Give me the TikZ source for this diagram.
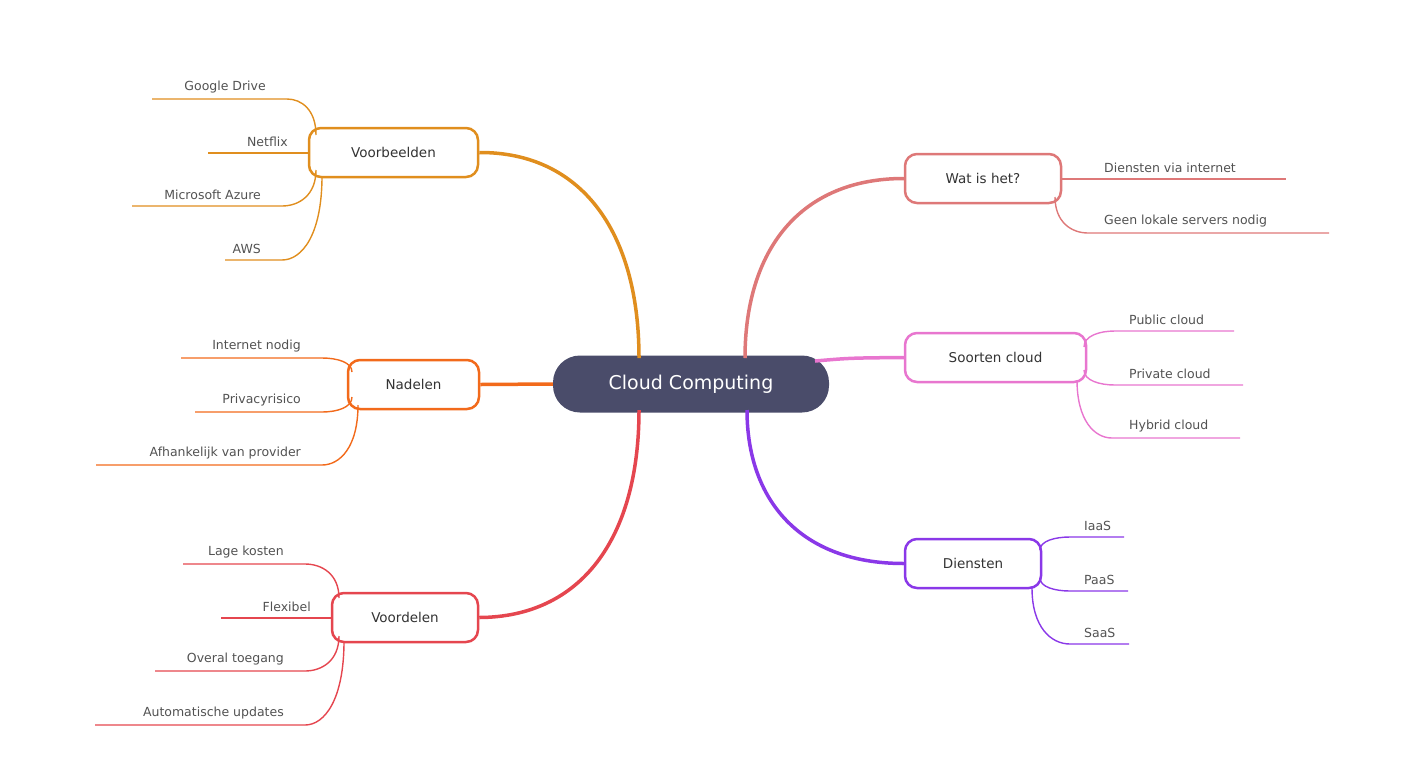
\documentclass[tikz,border=0pt]{standalone}
\usepackage{fontspec}
\setmainfont{DejaVu Sans}
\usetikzlibrary{calc}
\definecolor{cvb}{HTML}{E08E1E}
\definecolor{cnd}{HTML}{F26A1B}
\definecolor{cvd}{HTML}{E5464F}
\definecolor{cwh}{HTML}{DE7878}
\definecolor{csc}{HTML}{E876CF}
\definecolor{cdi}{HTML}{8A38E8}
\definecolor{ccc}{HTML}{4A4C6A}
\begin{document}
\begin{tikzpicture}[x=1pt,y=-1pt,
  topic/.style={draw, line width=2.5pt, rounded corners=12pt, fill=white,
    minimum height=49pt, inner sep=0pt, font=\fontsize{13.5}{16}\selectfont, text=black!80},
  leaf/.style={inner sep=2pt, font=\fontsize{12.5}{15}\selectfont, text=black!68},
  branch/.style={line width=3.5pt},
  twig/.style={line width=1.4pt}]
  \useasboundingbox (0,0) rectangle (1423,769);

  % center
  \node[fill=ccc, rounded corners=27pt, minimum width=276pt, minimum height=57pt,
    text=white, font=\fontsize{19}{22}\selectfont] (cc) at (691,384) {Cloud Computing};

  % topics
  \node[topic, draw=cvb, minimum width=169pt] (vb) at (393.5,152.5) {Voorbeelden};
  \node[topic, draw=cnd, minimum width=131pt] (nd) at (413.5,384.5) {Nadelen};
  \node[topic, draw=cvd, minimum width=146pt] (vd) at (405,617.5) {Voordelen};
  \node[topic, draw=cwh, minimum width=156pt] (wh) at (983,178.5) {Wat is het?};
  \node[topic, draw=csc, minimum width=181pt] (sc) at (995.5,357.5) {Soorten cloud};
  \node[topic, draw=cdi, minimum width=136pt] (di) at (973,563.5) {Diensten};

  % branches
  \draw[branch, cvb] (639,358) .. controls (639,230) and (580,152) .. (vb.east);
  \draw[branch, cnd] (cc.west) -- (nd.east);
  \draw[branch, cvd] (639,410) .. controls (639,540) and (580,617) .. (vd.east);
  \draw[branch, cwh] (745,358) .. controls (745,250) and (800,178.5) .. (wh.west);
  \draw[branch, csc] (815,361) .. controls (850,358) .. (sc.west);
  \draw[branch, cdi] (747,410) .. controls (747,500) and (800,563.5) .. (di.west);

  % leaves, left side: colour/name/start x/start y/knee x/line y/end x/text
  \foreach \c/\nm/\sx/\sy/\kx/\ly/\ex/\txt in {
    cvb/gd/316/135/287/99/152/Google Drive,
    cvb/nf/309/153/309/153/208/Netflix,
    cvb/ma/316/170/282/206/132/Microsoft Azure,
    cvb/aw/322/176/282/260/225/AWS,
    cnd/in/352/372/322/358/181/Internet nodig,
    cnd/pr/352/397/322/412/195/Privacyrisico,
    cnd/ah/358/405/322/465/96/Afhankelijk van provider,
    cvd/lk/339/598/305/564/183/Lage kosten,
    cvd/fx/332/618/332/618/221/Flexibel,
    cvd/ot/339/636/305/671/155/Overal toegang,
    cvd/au/344/641/305/725/95/Automatische updates}{
    \coordinate (\nm s) at (\sx,\sy);
    \coordinate (\nm k) at (\kx,\ly);
    \coordinate (\nm e) at (\ex,\ly);
    \draw[twig, \c] (\nm s) .. controls ($(\nm s)!0.7!(\nm s|-\nm k)$) and ($(\nm k)!0.5!(\nm k-|\nm s)$) .. (\nm k) -- (\nm e);
    \node[leaf, anchor=south east] (\nm) at ($(\nm k)+(-19,-4)$) {\txt};
  }
  % leaves, right side
  \foreach \c/\nm/\sx/\sy/\kx/\ly/\ex/\tx/\txt in {
    cwh/dv/1061/179/1061/179/1286/1104/Diensten via internet,
    cwh/gl/1055/197/1088/233/1329/1104/Geen lokale servers nodig,
    csc/pc/1084/347/1115/331/1234/1129/Public cloud,
    csc/pv/1084/370/1115/385/1243/1129/Private cloud,
    csc/hc/1077/380/1112/438/1240/1129/Hybrid cloud,
    cdi/ia/1040/550/1070/537/1124/1084/IaaS,
    cdi/pa/1040/578/1070/591/1128/1084/PaaS,
    cdi/sa/1032/588/1070/644/1129/1084/SaaS}{
    \coordinate (\nm s) at (\sx,\sy);
    \coordinate (\nm k) at (\kx,\ly);
    \coordinate (\nm e) at (\ex,\ly);
    \draw[twig, \c] (\nm s) .. controls ($(\nm s)!0.7!(\nm s|-\nm k)$) and ($(\nm k)!0.5!(\nm k-|\nm s)$) .. (\nm k) -- (\nm e);
    \node[leaf, anchor=south west] (\nm) at (\tx-2,\ly-4) {\txt};
  }
\end{tikzpicture}
\end{document}
